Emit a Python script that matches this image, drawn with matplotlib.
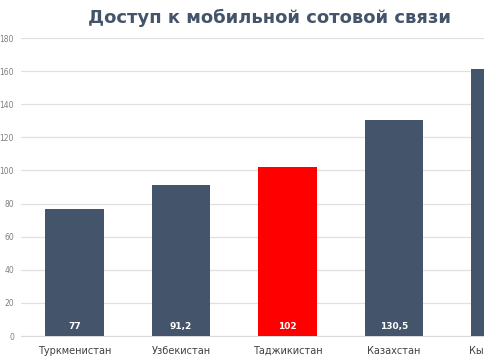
import matplotlib
matplotlib.use('Agg')
import matplotlib.pyplot as plt
import numpy as np

countries = ['Туркменистан', 'Узбекистан', 'Таджикистан', 'Казахстан', 'Кыргызстан']
values = [77, 91.2, 102, 130.5, 161]
bar_colors = ['#44546A', '#44546A', '#FF0000', '#44546A', '#44546A']
y_ticks = [0, 20, 40, 60, 80, 100, 120, 140, 160, 180]

fig = plt.figure(figsize=(4.85, 3.6), dpi=100)
# axes runs past the right edge, the last bar is cut off like in the source
ax = fig.add_axes([21 / 485, 24 / 360, 533 / 485, 298 / 360])

x = np.arange(len(countries))
ax.bar(x, values, width=0.55, color=bar_colors, zorder=3)

for xi, v in zip(x, values):
    label = f"{v:g}".replace('.', ',')
    ax.text(xi, 3, label, ha='center', va='bottom', color='white',
            fontsize=6.5, fontweight='bold', zorder=4)

ax.set_xlim(-0.5, len(countries) - 0.5)
ax.set_ylim(0, 180)
ax.set_yticks(y_ticks)
ax.set_xticks(x)
ax.set_xticklabels(countries)
ax.tick_params(axis='y', labelsize=5.5, labelcolor='#7f7f7f', length=0, pad=5)
ax.tick_params(axis='x', labelsize=7, labelcolor='#404040', length=0, pad=7)
ax.grid(axis='y', color='#e0e0e0', linewidth=0.9, zorder=0)
for side in ['top', 'right', 'left']:
    ax.spines[side].set_visible(False)
ax.spines['bottom'].set_color('#d9d9d9')

fig.text(270 / 485, 1 - 18 / 360, 'Доступ к мобильной сотовой связи',
         ha='center', va='center', fontsize=13, fontweight='heavy', color='#44546A')

fig.savefig('out.png', dpi=100)
